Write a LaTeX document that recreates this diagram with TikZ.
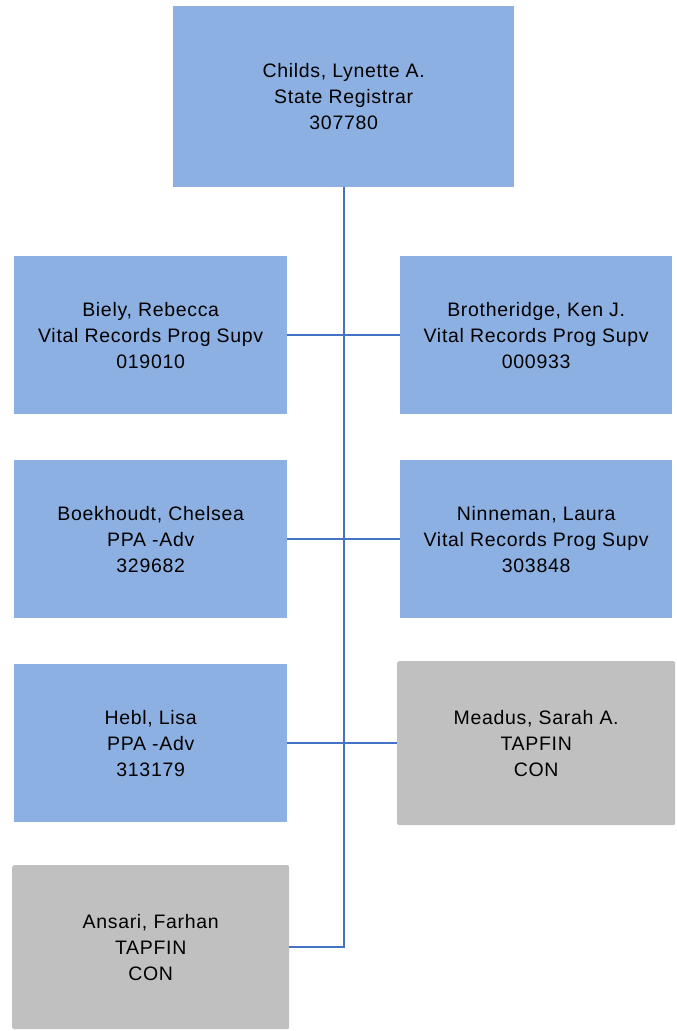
\documentclass[tikz,border=0pt]{standalone}
\usepackage{fontspec}
\setmainfont{Liberation Sans}[LetterSpace=3.5]
\definecolor{boxblue}{HTML}{8DB0E2}
\definecolor{boxgray}{HTML}{C0C0C0}
\definecolor{linkblue}{HTML}{4472C4}
\begin{document}
\begin{tikzpicture}[x=1pt,y=-1pt,
  card/.style={fill=boxblue,draw=none,align=center,inner sep=0pt,anchor=north west,
    font=\fontsize{19.5}{26}\selectfont},
  graycard/.style={card,fill=boxgray,rounded corners=2pt},
  orgline/.style={draw=linkblue,line width=2pt}]
\useasboundingbox (0,0) rectangle (677,1031);
\node[card,minimum width=341pt,minimum height=181pt] (childs) at (173,6) {Childs, Lynette A.\\State Registrar\\307780};
\node[card,minimum width=273pt,minimum height=158pt] (biely) at (14,256) {Biely, Rebecca\\Vital Records Prog Supv\\019010};
\node[card,minimum width=272pt,minimum height=158pt] (broth) at (400,256) {Brotheridge, Ken J.\\Vital Records Prog Supv\\000933};
\node[card,minimum width=273pt,minimum height=158pt] (boek) at (14,460) {Boekhoudt, Chelsea\\PPA -Adv\\329682};
\node[card,minimum width=272pt,minimum height=158pt] (ninn) at (400,460) {Ninneman, Laura\\Vital Records Prog Supv\\303848};
\node[card,minimum width=273pt,minimum height=158pt] (hebl) at (14,664) {Hebl, Lisa\\PPA -Adv\\313179};
\node[graycard,minimum width=278pt,minimum height=164pt] (mead) at (397,661) {Meadus, Sarah A.\\TAPFIN\\CON};
\node[graycard,minimum width=277pt,minimum height=164pt] (ansa) at (12,865) {Ansari, Farhan\\TAPFIN\\CON};
\coordinate (bend) at (childs.south |- ansa.east);
\draw[orgline] (childs.south) -- (bend) -- (ansa.east);
\draw[orgline] (biely.east) -- (broth.west);
\draw[orgline] (boek.east) -- (ninn.west);
\draw[orgline] (hebl.east) -- (mead.west);
\end{tikzpicture}
\end{document}
